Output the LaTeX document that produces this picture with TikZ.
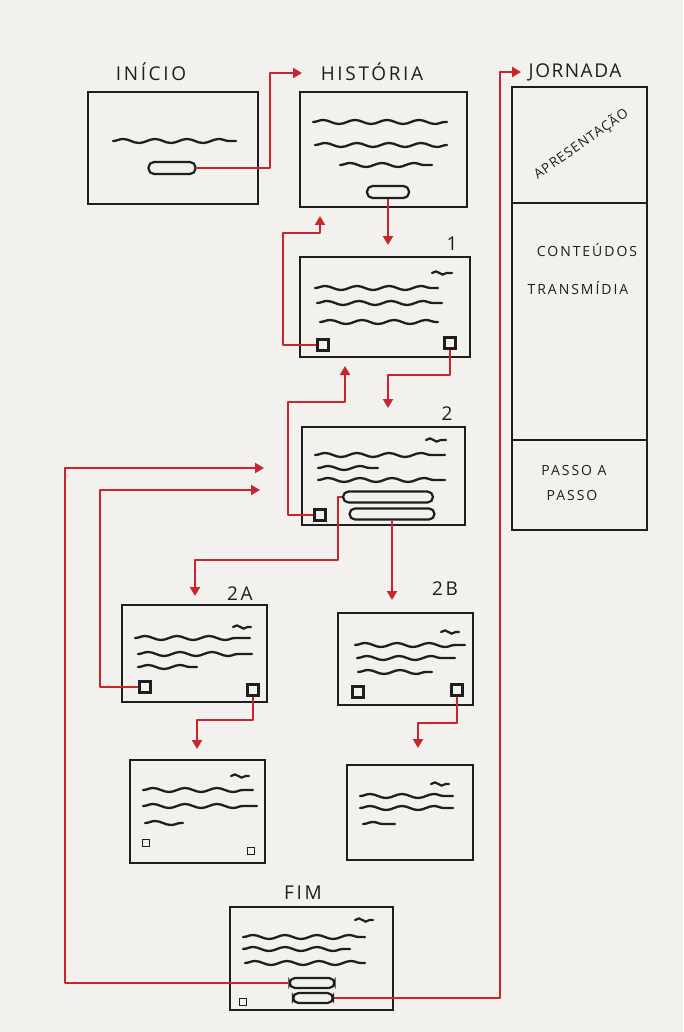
\documentclass[tikz,border=0pt]{standalone}
\usepackage{fontspec}
\setmainfont{Open Sans}
\newfontfamily\handfont[LetterSpace=14]{Open Sans}
\newfontfamily\handtight[LetterSpace=8]{Open Sans}
\usetikzlibrary{arrows.meta,decorations.pathmorphing,calc}
\definecolor{paper}{HTML}{F3F1EE}
\definecolor{ink}{HTML}{1E1E1E}
\definecolor{redink}{HTML}{C8262C}
\tikzset{
  screen/.style={draw=ink, line width=2.6pt, inner sep=0pt},
  btn/.style={draw=ink, line width=2.2pt, rounded corners=5.5pt, inner sep=0pt, minimum height=12pt},
  sq/.style={draw=ink, line width=2.2pt, inner sep=0pt, minimum width=11pt, minimum height=11pt},
  tinysq/.style={draw=ink, line width=1.5pt, inner sep=0pt, minimum width=7pt, minimum height=7pt},
  wave/.style={draw=ink, line width=2.3pt, line cap=round, decorate, decoration={snake, amplitude=2pt, segment length=32pt}},
  squig/.style={draw=ink, line width=2.2pt, line cap=round, decorate, decoration={snake, amplitude=1.6pt, segment length=13pt}},
  lbl/.style={text=ink, font=\handfont\fontsize{19}{21}\selectfont, inner sep=0pt},
  small/.style={text=ink, font=\handfont\fontsize{14}{16}\selectfont, inner sep=0pt},
  link/.style={draw=redink, line width=2.2pt, line join=round, -{Triangle[width=10pt,length=9pt]}},
  jcell/.style={draw=ink, line width=2.6pt, inner sep=0pt, minimum width=135pt}
}
\begin{document}
\begin{tikzpicture}[x=1pt,y=-1pt]
\fill[paper] (0,0) rectangle (683,1032);
\useasboundingbox (0,0) rectangle (683,1032);

% ---------- INICIO ----------
\node[lbl] (lInicio) at (151,72) {INÍCIO};
\node[screen, minimum width=170pt, minimum height=112pt] (inicio) at (173,148) {};
\draw[wave] (113,141) -- (236,141);
\node[btn, minimum width=47pt] (btnI) at (172,168) {};

% ---------- HISTORIA ----------
\node[lbl] (lHist) at (372,72) {HISTÓRIA};
\node[screen, minimum width=167pt, minimum height=115pt] (hist) at (383.5,149.5) {};
\draw[wave] (313,122) -- (447,122);
\draw[wave] (315,145) -- (447,145);
\draw[wave] (340,165) -- (432,165);
\node[btn, minimum width=42pt] (btnH) at (388,192) {};

% ---------- TELA 1 ----------
\node[lbl] (l1) at (452,244) {1};
\node[screen, minimum width=170pt, minimum height=100pt] (t1) at (385,307) {};
\draw[squig] (432,273) -- (452,273);
\draw[wave] (315,288) -- (438,288);
\draw[wave] (317,303) -- (442,303);
\draw[wave] (320,322) -- (438,322);
\node[sq] (sq1L) at (323,345) {};
\node[sq] (sq1R) at (450,343) {};

% ---------- TELA 2 ----------
\node[lbl] (l2) at (447,414) {2};
\node[screen, minimum width=163pt, minimum height=98pt] (t2) at (383.5,476) {};
\draw[squig] (426,440) -- (446,440);
\draw[wave] (315,455) -- (445,455);
\draw[wave] (318,468) -- (378,468);
\draw[wave] (318,480) -- (445,480);
\node[btn, minimum width=90pt, minimum height=11pt] (o2a) at (388,497) {};
\node[btn, minimum width=85pt, minimum height=11pt] (o2b) at (392,514) {};
\node[sq] (sq2L) at (320,515) {};

% ---------- TELA 2A ----------
\node[lbl] (l2A) at (240,594) {2A};
\node[screen, minimum width=145pt, minimum height=97pt] (t2A) at (194.5,653.5) {};
\draw[squig] (233,627) -- (251,627);
\draw[wave] (135,638) -- (250,638);
\draw[wave] (138,654) -- (252,654);
\draw[wave] (138,667) -- (197,667);
\node[sq] (sqAL) at (145,687) {};
\node[sq] (sqAR) at (253,690) {};

% ---------- TELA 2B ----------
\node[lbl] (l2B) at (445,589) {2B};
\node[screen, minimum width=135pt, minimum height=92pt] (t2B) at (405.5,659) {};
\draw[squig] (441,632) -- (459,632);
\draw[wave] (355,645) -- (465,645);
\draw[wave] (357,658) -- (455,658);
\draw[wave] (358,672) -- (432,672);
\node[sq] (sqBL) at (358,692) {};
\node[sq] (sqBR) at (457,690) {};

% ---------- FILHA 2A ----------
\node[screen, minimum width=135pt, minimum height=103pt] (cA) at (197.5,811.5) {};
\draw[squig] (231,776) -- (249,776);
\draw[wave] (143,790) -- (253,790);
\draw[wave] (143,806) -- (257,806);
\draw[wave] (145,823) -- (183,823);
\node[tinysq] (cAL) at (146,843) {};
\node[tinysq] (cAR) at (251,851) {};

% ---------- FILHA 2B ----------
\node[screen, minimum width=126pt, minimum height=95pt] (cB) at (410,812.5) {};
\draw[squig] (431,784) -- (449,784);
\draw[wave] (360,796) -- (453,796);
\draw[wave] (360,808) -- (453,808);
\draw[wave] (363,824) -- (395,824);

% ---------- FIM ----------
\node[lbl] (lFim) at (303,893) {FIM};
\node[screen, minimum width=163pt, minimum height=103pt] (fim) at (311.5,958.5) {};
\draw[squig] (355,920) -- (373,920);
\draw[wave] (243,937) -- (365,937);
\draw[wave] (243,949) -- (350,949);
\draw[wave] (245,963) -- (365,963);
\node[btn, minimum width=45pt, minimum height=10pt] (F1) at (312,983) {};
\node[btn, minimum width=40pt, minimum height=10pt] (F2) at (313,998) {};
\node[tinysq] (fimSq) at (243,1002) {};

% ---------- JORNADA ----------
\node[text=ink, font=\handtight\fontsize{19}{21}\selectfont, inner sep=0pt] (lJorn) at (575,72) {JORNADA};
\node[jcell, minimum height=116pt] (apres) at (579.5,145) {};
\node[jcell, minimum height=237pt] (cont) at (579.5,321.5) {};
\node[jcell, minimum height=90pt] (passo) at (579.5,485) {};
\node[text=ink, font=\handtight\fontsize{13.5}{15}\selectfont, inner sep=0pt, rotate=35] (tApres) at (581,144) {APRESENTAÇÃO};
\node[small] (tCont) at (587,250) {CONTEÚDOS};
\node[small] (tTrans) at (578,288) {TRANSMÍDIA};
\node[small] (tPasso1) at (574,470) {PASSO A};
\node[small] (tPasso2) at (572,495) {PASSO};

% ---------- CONNECTORS ----------
\coordinate (tipH) at (302,73);
\coordinate (tipT1) at (388,245);
\coordinate (tipHb) at (320,216);
\coordinate (tipT2) at (388,408);
\coordinate (tipT1b) at (345,366);
\coordinate (tipA) at (195,596);
\coordinate (tipB) at (392,600);
\coordinate (tipT2a) at (264,468);
\coordinate (tipT2b) at (260,490);
\coordinate (tipCA) at (197,749);
\coordinate (tipCB) at (418,748);
\coordinate (tipJ) at (521,72);

\draw[link] (btnI.east) -- (270,168) -- (270,73) -- (tipH);
\draw[link] (btnH.south) -- (tipT1);
\draw[link] (sq1L.west) -- (283,345) -- (283,233) -- (320,233) -- (tipHb);
\draw[link] (sq1R.south) -- (450,375) -- (388,375) -- (tipT2);
\draw[link] (sq2L.west) -- (288,515) -- (288,402) -- (345,402) -- (tipT1b);
\draw[link] (o2a.west) -- (338,497) -- (338,560) -- (195,560) -- (tipA);
\draw[link] (o2b.south) -- (tipB);
\draw[link] (sqAL.west) -- (100,687) -- (100,490) -- (tipT2b);
\draw[link] (F1.west) -- (65,983) -- (65,468) -- (tipT2a);
\draw[link] (sqAR.south) -- (253,720) -- (197,720) -- (tipCA);
\draw[link] (sqBR.south) -- (457,723) -- (418,723) -- (tipCB);
\draw[link] (F2.east) -- (500,998) -- (500,72) -- (tipJ);
\end{tikzpicture}
\end{document}
